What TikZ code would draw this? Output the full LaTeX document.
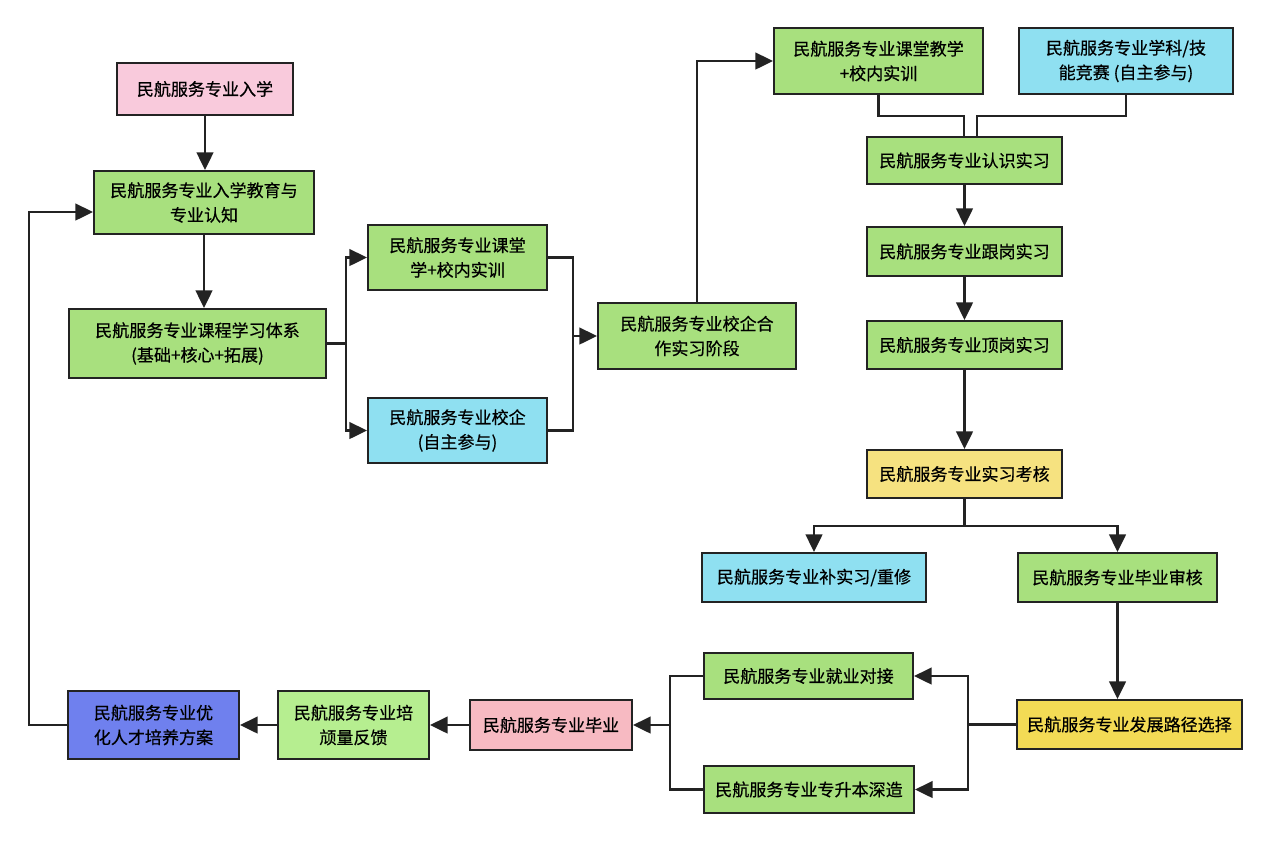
\documentclass[tikz,border=0pt]{standalone}
\usepackage{fontspec}
\setmainfont[FakeBold=0.5]{Noto Sans CJK SC}
\usetikzlibrary{arrows.meta, positioning}

\definecolor{stepgreen}{HTML}{A8E07E}
\definecolor{lightgreen}{HTML}{B6EE90}
\definecolor{entrypink}{HTML}{F9CADC}
\definecolor{gradpink}{HTML}{F7BAC2}
\definecolor{selfcyan}{HTML}{8FE0F1}
\definecolor{checkyellow}{HTML}{F6E280}
\definecolor{pathyellow}{HTML}{F3DB55}
\definecolor{planblue}{HTML}{6F80EE}
\definecolor{inkgray}{HTML}{232323}

\begin{document}
\begin{tikzpicture}[
    x=0.02cm, y=-0.02cm,
    box/.style={rectangle, draw=inkgray, line width=1.2pt, align=center,
        inner sep=2pt, text=black,
        font=\fontsize{9.7pt}{14pt}\selectfont},
    boxsize/.style 2 args={minimum width=#1*0.02cm, minimum height=#2*0.02cm},
    study/.style={box, fill=stepgreen},
    selfpick/.style={box, fill=selfcyan},
    check/.style={box, fill=checkyellow},
    flow/.style={draw=inkgray, line width=1.3pt, -{Triangle[length=10pt,width=9.5pt]}},
    link/.style={draw=inkgray, line width=1.3pt}
]
\useasboundingbox (0,0) rectangle (1264,843);

% Entry and course stage
\node[box, fill=entrypink, boxsize={176}{52}] (enroll) at (205,89) {民航服务专业入学};
\node[study, boxsize={220}{63}] (edu) at (204,202.5) {民航服务专业入学教育与\\专业认知};
\node[study, boxsize={257}{69}] (course) at (197.5,343.5) {民航服务专业课程学习体系\\(基础+核心+拓展)};
\node[study, boxsize={179}{65}] (class1) at (457.5,257.5) {民航服务专业课堂\\学+校内实训};
\node[selfpick, boxsize={179}{65}] (coop1) at (457.5,430.5) {民航服务专业校企\\(自主参与)};
\node[study, boxsize={198}{66}] (stage) at (697,336) {民航服务专业校企合\\作实习阶段};

% Internship chain
\node[study, boxsize={209}{66}] (class2) at (878.5,61) {民航服务专业课堂教学\\+校内实训};
\node[selfpick, boxsize={214}{66}] (contest) at (1126,61) {民航服务专业学科/技\\能竞赛 (自主参与)};
\node[study, boxsize={195}{47}] (cog) at (964.5,160.5) {民航服务专业认识实习};
\node[study, boxsize={195}{49}] (follow) at (964.5,251.5) {民航服务专业跟岗实习};
\node[study, boxsize={195}{48}] (top) at (964.5,345) {民航服务专业顶岗实习};
\node[check, boxsize={195}{48}] (exam) at (964.5,474) {民航服务专业实习考核};
\node[selfpick, boxsize={224}{49}] (redo) at (814,577.5) {民航服务专业补实习/重修};
\node[study, boxsize={199}{49}] (review) at (1117.5,577.5) {民航服务专业毕业审核};
\node[box, fill=pathyellow, boxsize={225}{49}] (path) at (1129.5,724.5) {民航服务专业发展路径选择};

% Graduation and feedback
\node[study, boxsize={209}{46}] (job) at (808.5,676) {民航服务专业就业对接};
\node[study, boxsize={210}{47}] (upgrade) at (809,789.5) {民航服务专业专升本深造};
\node[box, fill=gradpink, boxsize={162}{50}] (grad) at (551,725) {民航服务专业毕业};
\node[box, fill=lightgreen, boxsize={151}{68}] (feedback) at (353.5,725) {民航服务专业培\\颃量反馈};
\node[box, fill=planblue, boxsize={171}{68}] (optimize) at (153.5,725) {民航服务专业优\\化人才培养方案};

% Junction points
\coordinate (fork1) at (346,343.5);
\coordinate (join1) at (573,336);
\coordinate (mergeL) at (964,116);
\coordinate (mergeR) at (977,116);
\coordinate (split) at (964.5,526);
\coordinate (choice) at (968,724.5);
\coordinate (gather) at (670,725);
\coordinate (loopB) at (29,725);
\coordinate (loopT) at (29,212);

% Connectors
\draw[flow] (enroll.south) -- (enroll.south |- edu.north);
\draw[flow] (edu.south) -- (edu.south |- course.north);
\draw[link] (course.east) -- (fork1);
\draw[flow] (fork1) |- (class1.west);
\draw[flow] (fork1) |- (coop1.west);
\draw[link] (class1.east) -| (join1);
\draw[link] (coop1.east) -| (join1);
\draw[flow] (join1) -- (stage.west);
\draw[flow] (stage.north) |- (class2.west);
\draw[link] (class2.south) |- (mergeL) -- (mergeL |- cog.north);
\draw[link] (contest.south) |- (mergeR) -- (mergeR |- cog.north);
\draw[flow] (cog) -- (follow);
\draw[flow] (follow) -- (top);
\draw[flow] (top) -- (exam);
\draw[link] (exam.south) -- (split);
\draw[flow] (split) -| (redo.north);
\draw[flow] (split) -| (review.north);
\draw[flow] (review.south) -- (review.south |- path.north);
\draw[link] (path.west) -- (choice);
\draw[flow] (choice) |- (job.east);
\draw[flow] (choice) |- (upgrade.east);
\draw[link] (job.west) -| (gather);
\draw[link] (upgrade.west) -| (gather);
\draw[flow] (gather) -- (grad.east);
\draw[flow] (grad) -- (feedback);
\draw[flow] (feedback) -- (optimize);
\draw[flow] (optimize.west) -- (loopB) -- (loopT) -- (loopT -| edu.west);

\end{tikzpicture}
\end{document}
